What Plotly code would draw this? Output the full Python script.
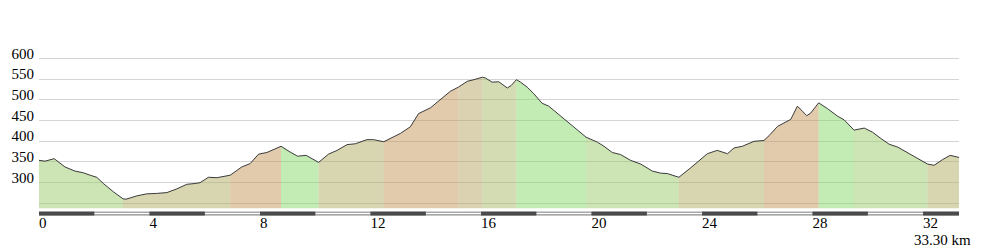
import plotly.graph_objects as go

# ---- data ----
km = [0.00, 0.22, 0.55, 0.94, 1.30, 1.60, 1.85, 2.09, 2.33, 2.69, 3.04, 3.15, 3.54, 3.90, 4.26,
      4.63, 4.99, 5.35, 5.65, 5.83, 6.13, 6.44, 6.92, 7.34, 7.64, 7.95, 8.25, 8.55, 8.76, 9.09,
      9.36, 9.67, 9.88, 10.12, 10.48, 10.79, 11.15, 11.45, 11.87, 12.11, 12.48, 12.78, 13.08,
      13.44, 13.74, 14.17, 14.53, 14.65, 14.89, 15.18, 15.50, 15.74, 16.05, 16.16, 16.40, 16.64,
      16.95, 17.09, 17.28, 17.43, 17.67, 17.91, 18.21, 18.45, 18.76, 19.12, 19.48, 19.80, 20.21,
      20.45, 20.75, 21.05, 21.41, 21.78, 22.20, 22.50, 22.74, 23.16, 23.59, 23.89, 24.19, 24.55,
      24.92, 25.16, 25.46, 25.88, 26.24, 26.43, 26.73, 27.21, 27.45, 27.63, 27.79, 27.93, 28.22,
      28.54, 28.90, 29.14, 29.50, 29.87, 30.17, 30.47, 30.77, 31.08, 31.44, 31.80, 32.16, 32.40,
      32.71, 32.98, 33.30]
elev = [354, 352, 358, 338, 328, 324, 318, 313, 298, 278, 261, 260, 268, 273, 274,
        276, 285, 296, 298, 300, 313, 312, 318, 338, 346, 369, 373, 381, 388, 374,
        364, 366, 358, 349, 369, 378, 392, 394, 404, 404, 399, 408, 419,
        435, 467, 481, 500, 507, 521, 531, 545, 549, 555, 553, 543, 544,
        529, 535, 549, 543, 531, 515, 492, 485, 468, 447, 427, 410, 398,
        388, 373, 368, 354, 345, 328, 323, 322, 313, 336, 353, 370, 378,
        370, 384, 388, 400, 402, 414, 436, 453, 485, 473, 462, 468, 493,
        479, 461, 452, 427, 432, 422, 407, 393, 386, 373, 358, 345, 342,
        356, 366, 361]

# gradient segments (km boundaries) and their class
seg_bounds = [0, 3.04, 6.92, 8.76, 10.12, 12.48, 15.18, 16.05, 17.28, 19.80, 23.16,
              26.24, 28.22, 29.50, 32.16, 33.30]
seg_class = ["down", "flat", "up", "steepdown", "flat", "up", "flatup", "flatdown",
             "steepdown", "down", "flat", "up", "steepdown", "down", "flat"]

y_gridvals = [250, 300, 350, 400, 450, 500, 550, 600]
y_labelvals = [300, 350, 400, 450, 500, 550, 600]
x_tickvals = [0, 4, 8, 12, 16, 20, 24, 28, 32]
total_km = 33.30
scale_step = 2

# ---- styles ----
ALPHA = 0.5
targets = {
    "steepdown": (195, 236, 180),
    "down": (205, 228, 180),
    "flatdown": (211, 220, 179),
    "flat": (216, 213, 177),
    "flatup": (219, 210, 177),
    "up": (225, 203, 172),
}


def rgba(t):
    c = [max(0, min(255, round((v - (1 - ALPHA) * 255) / ALPHA))) for v in t]
    return f"rgba({c[0]},{c[1]},{c[2]},{ALPHA})"


fig = go.Figure()

for i, cls in enumerate(seg_class):
    a, b = seg_bounds[i], seg_bounds[i + 1]
    xs = [k for k in km if a - 1e-9 <= k <= b + 1e-9]
    ys = [e for k, e in zip(km, elev) if a - 1e-9 <= k <= b + 1e-9]
    fig.add_trace(go.Scatter(x=xs, y=ys, mode="lines", fill="tozeroy",
                             fillcolor=rgba(targets[cls]), line=dict(width=0),
                             hoverinfo="skip", showlegend=False))

fig.add_trace(go.Scatter(x=km, y=elev, mode="lines",
                         line=dict(color="#3a3a3a", width=1),
                         hoverinfo="skip", showlegend=False))

# scale strip
fig.add_trace(go.Scatter(x=[0, total_km], y=[0.5, 0.5], mode="lines",
                         line=dict(color="#8a8a8a", width=4),
                         xaxis="x2", yaxis="y2", hoverinfo="skip", showlegend=False))
wx, dx = [], []
s = 0
idx = 0
while s < total_km:
    e = min(s + scale_step, total_km)
    if idx % 2 == 0:
        dx += [s, e, None]
    else:
        wx += [s, e, None]
    s += scale_step
    idx += 1
fig.add_trace(go.Scatter(x=wx, y=[0.5 if v is not None else None for v in wx], mode="lines",
                         line=dict(color="#ffffff", width=1.5),
                         xaxis="x2", yaxis="y2", hoverinfo="skip", showlegend=False))
fig.add_trace(go.Scatter(x=dx, y=[0.5 if v is not None else None for v in dx], mode="lines",
                         line=dict(color="#4a4a4a", width=4),
                         xaxis="x2", yaxis="y2", hoverinfo="skip", showlegend=False))

FONT = "Liberation Serif"
# plot area: 45px .. 216px (171px); main panel bottom at 208.3px
UNITS_PER_PX = 2.418
Y0 = 238
Y1 = Y0 + (208.3 - 45) * UNITS_PER_PX
LABEL_SHIFT = 12.8  # labels sit slightly above their gridline (in data units)
MAIN_DOMAIN = [(216 - 208.3) / 171, 1]

fig.update_layout(
    width=991, height=248,
    margin=dict(l=39, r=32, t=45, b=32),
    paper_bgcolor="white", plot_bgcolor="white",
    font=dict(family=FONT, size=15, color="#000"),
    xaxis=dict(range=[0, total_km], domain=[0, 1], anchor="y",
               showgrid=False, zeroline=False, showticklabels=False, showline=False),
    yaxis=dict(range=[Y0, Y1], domain=MAIN_DOMAIN, anchor="x",
               tickvals=y_gridvals, showticklabels=False,
               showgrid=True, gridcolor="#d4d4d4", gridwidth=1,
               zeroline=False, showline=False, ticks=""),
    yaxis3=dict(range=[Y0 - LABEL_SHIFT, Y1 - LABEL_SHIFT], domain=MAIN_DOMAIN,
                overlaying="y", side="left", anchor="x",
                tickvals=y_labelvals, ticktext=[str(v) for v in y_labelvals],
                showgrid=False, zeroline=False, showline=False, ticks="",
                ticklabelstandoff=4,
                tickfont=dict(family=FONT, size=15, color="#000")),
    xaxis2=dict(range=[0, total_km], domain=[0, 1], anchor="y2", matches="x",
                tickvals=x_tickvals, ticktext=[str(v) for v in x_tickvals],
                ticklabelposition="outside right", ticks="", ticklabelstandoff=-4,
                showgrid=False, zeroline=False, showline=False,
                tickfont=dict(family=FONT, size=15, color="#000")),
    yaxis2=dict(range=[0, 1], domain=[0, 4.8 / 171], anchor="x2",
                showgrid=False, zeroline=False, showticklabels=False, showline=False),
    annotations=[dict(text=f"{total_km:.2f} km", xref="paper", yref="paper",
                      x=(973 - 39) / 920, y=(216 - 240) / 171,
                      xanchor="right", yanchor="middle", showarrow=False,
                      font=dict(family=FONT, size=15, color="#000"))],
)

# invisible trace so the label axis is drawn
fig.add_trace(go.Scatter(x=[0], y=[Y0], yaxis="y3", mode="markers",
                         marker=dict(opacity=0), hoverinfo="skip", showlegend=False))

fig.write_html("out.html")
